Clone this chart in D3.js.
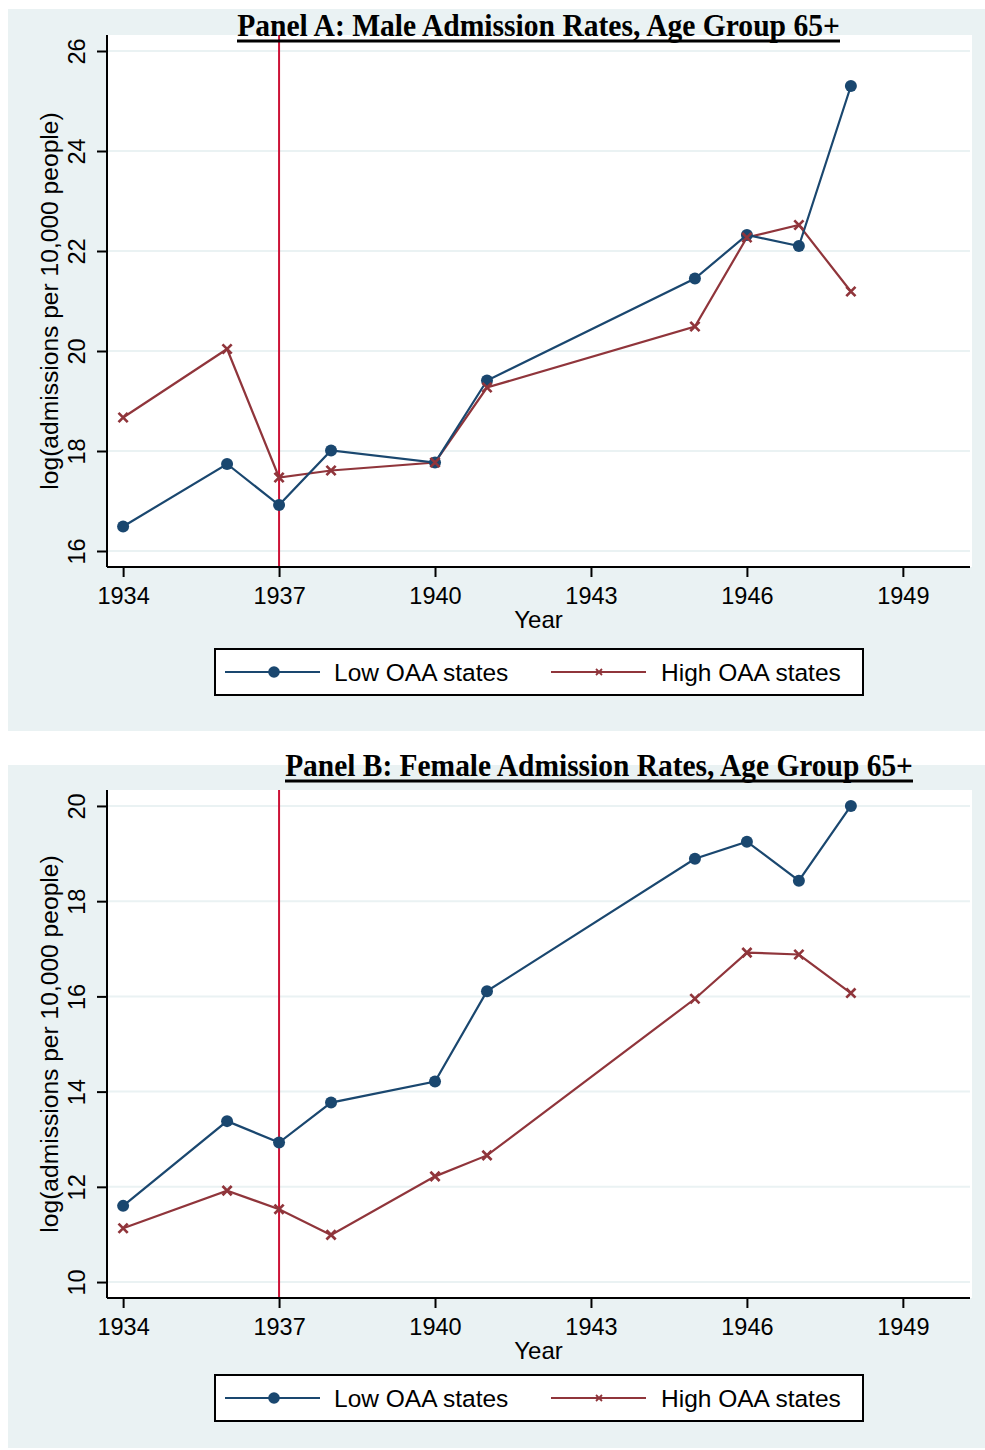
<!DOCTYPE html>
<html>
<head>
<meta charset="utf-8">
<script src="https://cdn.jsdelivr.net/npm/d3@7"></script>
<style>
  html, body { margin: 0; padding: 0; background: #ffffff; }
  svg { display: block; }
</style>
</head>
<body>
<svg id="chart" width="985" height="1450"></svg>
<script>
// Years observed in both series
const years = [1934, 1936, 1937, 1938, 1940, 1941, 1945, 1946, 1947, 1948];
const xTicks = [1934, 1937, 1940, 1943, 1946, 1949];
const seriesNames = ["Low OAA states", "High OAA states"];

// Panel A: male admission rates, age 65+
const maleTitle = "Panel A: Male Admission Rates, Age Group 65+";
const maleLow  = [16.49, 17.74, 16.92, 18.01, 17.77, 19.41, 21.45, 22.32, 22.10, 25.30];
const maleHigh = [18.67, 20.04, 17.47, 17.61, 17.77, 19.27, 20.49, 22.27, 22.52, 21.19];
const maleYTicks = [16, 18, 20, 22, 24, 26];

// Panel B: female admission rates, age 65+
const femaleTitle = "Panel B: Female Admission Rates, Age Group 65+";
const femaleLow  = [11.60, 13.38, 12.93, 13.77, 14.21, 16.11, 18.89, 19.25, 18.43, 20.00];
const femaleHigh = [11.13, 11.92, 11.53, 10.99, 12.22, 12.66, 15.95, 16.92, 16.88, 16.07];
const femaleYTicks = [10, 12, 14, 16, 18, 20];

const policyYear = 1937;
const yTitle = "log(admissions per 10,000 people)";
const xTitle = "Year";

const C = {
  bg: "#eaf2f3",
  grid: "#eaf2f3",
  low: "#1a476f",
  high: "#90353b",
  vline: "#cc1236",
  axis: "#000000"
};
const sans = "'Liberation Sans', Arial, Helvetica, sans-serif";
const serif = "'Liberation Serif', 'Times New Roman', Times, serif";

const svg = d3.select("#chart");

function drawPanel(opt) {
  const g = svg.append("g");
  const { top, bottom } = opt;

  // outer panel background
  g.append("rect")
    .attr("x", 8).attr("y", opt.bgTop)
    .attr("width", 985 - 8).attr("height", opt.bgBottom - opt.bgTop)
    .attr("fill", C.bg);

  const left = 107, right = 972;
  const x = d3.scaleLinear().domain([1933.69, 1950.33]).range([left, right]);
  const y = d3.scaleLinear().domain(opt.yDomain).range([bottom, top]);

  // plot region
  g.append("rect")
    .attr("x", left).attr("y", top)
    .attr("width", right - left).attr("height", bottom - top)
    .attr("fill", "#ffffff");

  // horizontal grid
  g.append("g").selectAll("line").data(opt.yTicks).join("line")
    .attr("x1", left + 1).attr("x2", right - 2)
    .attr("y1", d => y(d)).attr("y2", d => y(d))
    .attr("stroke", C.grid).attr("stroke-width", 2);

  // policy year marker
  g.append("line")
    .attr("x1", x(policyYear)).attr("x2", x(policyYear))
    .attr("y1", top).attr("y2", bottom)
    .attr("stroke", C.vline).attr("stroke-width", 2);

  // y axis
  const yAxis = d3.axisLeft(y).tickValues(opt.yTicks).tickSize(10).tickPadding(0);
  const ya = g.append("g").attr("transform", `translate(${left},0)`).call(yAxis);
  ya.select(".domain").attr("stroke", C.axis).attr("stroke-width", 2)
    .attr("d", `M0,${top}V${bottom}`);
  ya.selectAll(".tick line").attr("stroke", C.axis).attr("stroke-width", 2);
  ya.selectAll(".tick text")
    .attr("font-family", sans).attr("font-size", 23.5).attr("fill", "#000")
    .attr("text-anchor", "middle").attr("dy", null).attr("x", null)
    .attr("transform", "translate(-22,0) rotate(-90)")
    .attr("dominant-baseline", "auto");

  // x axis
  const xAxis = d3.axisBottom(x).tickValues(xTicks).tickFormat(d3.format("d")).tickSize(10).tickPadding(0);
  const xa = g.append("g").attr("transform", `translate(0,${bottom})`).call(xAxis);
  xa.select(".domain").attr("stroke", C.axis).attr("stroke-width", 2)
    .attr("d", `M${left},0H${right - 2}`);
  xa.selectAll(".tick line").attr("stroke", C.axis).attr("stroke-width", 2);
  xa.selectAll(".tick text")
    .attr("font-family", sans).attr("font-size", 23.5).attr("fill", "#000")
    .attr("y", 37).attr("dy", null);

  // axis titles
  g.append("text")
    .attr("transform", `translate(58,${(top + bottom) / 2}) rotate(-90)`)
    .attr("text-anchor", "middle")
    .attr("font-family", sans).attr("font-size", 24.6).attr("fill", "#000")
    .text(yTitle);
  g.append("text")
    .attr("x", (left + right) / 2 - 1).attr("y", bottom + 61)
    .attr("text-anchor", "middle")
    .attr("font-family", sans).attr("font-size", 24).attr("fill", "#000")
    .text(xTitle);

  // series
  const line = d3.line().x(d => x(d[0])).y(d => y(d[1]));
  const lowPts = years.map((yr, i) => [yr, opt.low[i]]);
  const highPts = years.map((yr, i) => [yr, opt.high[i]]);

  g.append("path").datum(highPts).attr("d", line)
    .attr("fill", "none").attr("stroke", C.high).attr("stroke-width", 2.2);
  g.append("path").datum(lowPts).attr("d", line)
    .attr("fill", "none").attr("stroke", C.low).attr("stroke-width", 2.2);

  g.append("g").selectAll("circle").data(lowPts).join("circle")
    .attr("cx", d => x(d[0])).attr("cy", d => y(d[1])).attr("r", 6)
    .attr("fill", C.low);

  const cross = (s) => `M${-s},${-s}L${s},${s}M${-s},${s}L${s},${-s}`;
  g.append("g").selectAll("path").data(highPts).join("path")
    .attr("transform", d => `translate(${x(d[0])},${y(d[1])})`)
    .attr("d", cross(4.6))
    .attr("stroke", C.high).attr("stroke-width", 2.7).attr("fill", "none");

  // title (bold serif, underlined), sized to span its width
  const tg = g.append("g").attr("transform", `translate(${opt.titleCx},${opt.titleBase}) scale(1,1.1)`);
  const t = tg.append("text")
    .attr("font-family", serif).attr("font-weight", "bold")
    .attr("font-size", 100).attr("fill", "#000")
    .attr("text-anchor", "middle")
    .text(opt.title);
  const w100 = t.node().getComputedTextLength();
  t.attr("font-size", 100 * opt.titleWidth / w100);
  g.append("line")
    .attr("x1", opt.titleCx - opt.titleWidth / 2).attr("x2", opt.titleCx + opt.titleWidth / 2)
    .attr("y1", opt.titleBase + 5).attr("y2", opt.titleBase + 5)
    .attr("stroke", "#000").attr("stroke-width", 3);

  // legend
  const lg = g.append("g").attr("transform", `translate(0,${opt.legendTop})`);
  lg.append("rect").attr("x", 215).attr("y", 0).attr("width", 648).attr("height", 46)
    .attr("fill", "#fff").attr("stroke", "#000").attr("stroke-width", 2);
  const ly = 23;
  lg.append("line").attr("x1", 225).attr("x2", 320).attr("y1", ly).attr("y2", ly)
    .attr("stroke", C.low).attr("stroke-width", 2);
  lg.append("circle").attr("cx", 274).attr("cy", ly).attr("r", 5.8).attr("fill", C.low);
  lg.append("text").attr("x", 334).attr("y", ly + 8.5)
    .attr("font-family", sans).attr("font-size", 24.5).attr("fill", "#000")
    .text(seriesNames[0]);
  lg.append("line").attr("x1", 551).attr("x2", 646).attr("y1", ly).attr("y2", ly)
    .attr("stroke", C.high).attr("stroke-width", 2);
  lg.append("path").attr("transform", `translate(599,${ly})`).attr("d", cross(3))
    .attr("stroke", C.high).attr("stroke-width", 1.8).attr("fill", "none");
  lg.append("text").attr("x", 661).attr("y", ly + 8.5)
    .attr("font-family", sans).attr("font-size", 24.5).attr("fill", "#000")
    .text(seriesNames[1]);
}

drawPanel({
  bgTop: 9, bgBottom: 731,
  top: 35, bottom: 567,
  yDomain: [15.68, 26.32],
  yTicks: maleYTicks,
  low: maleLow, high: maleHigh,
  title: maleTitle, titleCx: 538.5, titleWidth: 603, titleBase: 36,
  legendTop: 649
});

drawPanel({
  bgTop: 765, bgBottom: 1448,
  top: 790, bottom: 1298,
  yDomain: [9.665, 20.335],
  yTicks: femaleYTicks,
  low: femaleLow, high: femaleHigh,
  title: femaleTitle, titleCx: 599, titleWidth: 628, titleBase: 776,
  legendTop: 1375
});
</script>
</body>
</html>
